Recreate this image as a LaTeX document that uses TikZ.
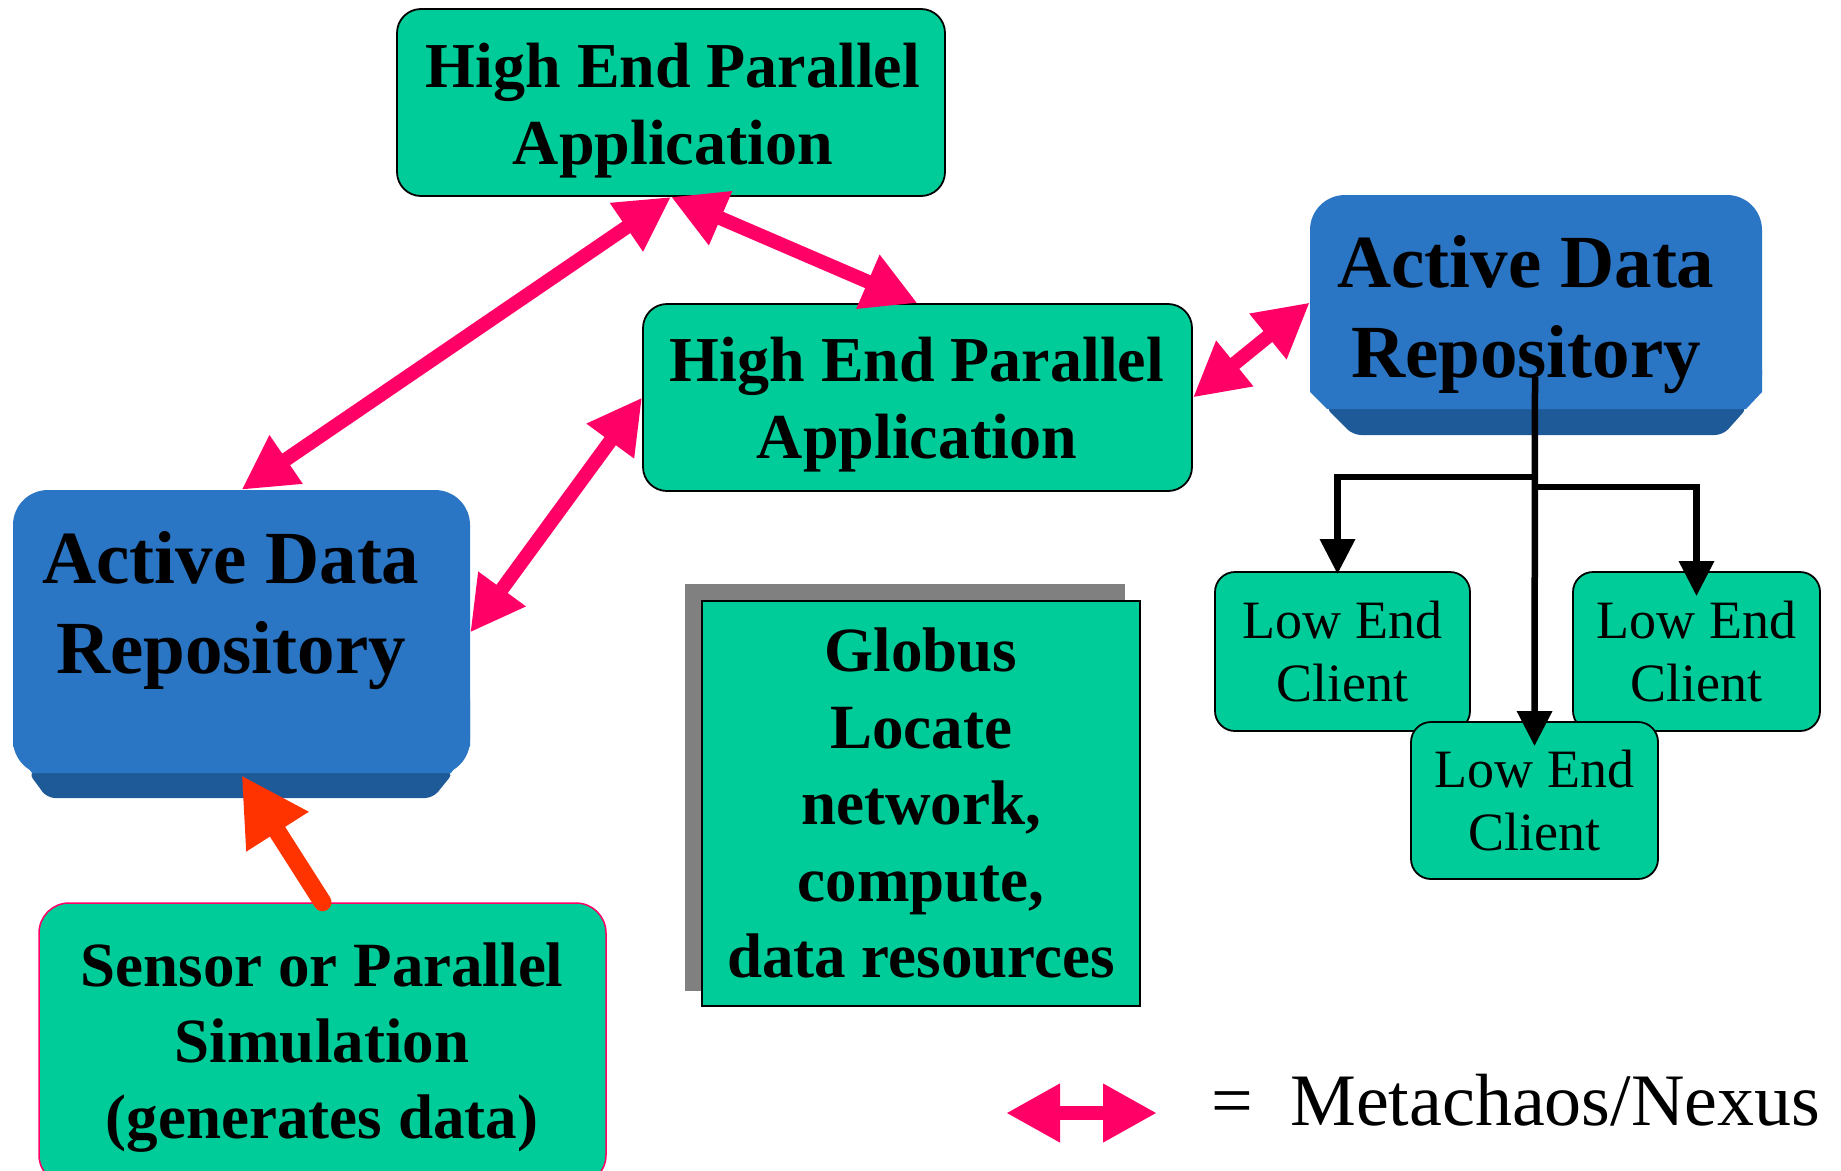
\documentclass[tikz,border=0pt]{standalone}
\usepackage{fontspec}
\setmainfont{Liberation Serif}
\usetikzlibrary{arrows.meta,calc}
\definecolor{boxgreen}{RGB}{0,204,153}
\definecolor{adrblue}{RGB}{42,117,196}
\definecolor{adrdark}{RGB}{31,90,152}
\definecolor{mpink}{RGB}{255,0,102}
\definecolor{morange}{RGB}{255,51,0}
\definecolor{shadowgray}{RGB}{128,128,128}
\begin{document}
\begin{tikzpicture}[x=1pt,y=-1pt,
  hepabox/.style={draw=black,line width=1.8pt,fill=boxgreen,rounded corners=24pt,inner sep=0pt,minimum width=548pt,minimum height=187pt},
  lowbox/.style={draw=black,line width=1.8pt,fill=boxgreen,rounded corners=20pt,inner sep=0pt,align=center,font=\fontsize{54}{63}\selectfont},
  anchorbox/.style={draw=none,inner sep=0pt},
  hepatext/.style={align=center,inner sep=0pt,font=\fontsize{64}{77}\selectfont\bfseries},
  adrtext/.style={align=center,inner sep=0pt,font=\fontsize{75}{90}\selectfont\bfseries},
  pinkarrow/.style={draw=mpink,line width=14pt,{Triangle[length=54pt,width=55pt]}-{Triangle[length=54pt,width=55pt]}},
  blackarrow/.style={draw=black,line width=6.5pt,-{Triangle[length=35pt,width=34pt]}},
  legendfont/.style={inner sep=0pt,font=\fontsize{74}{88}\selectfont}
]
\clip (0,0) rectangle (1841,1170);
\fill[white] (0,0) rectangle (1841,1170);

% High End Parallel Applications
\node[hepabox] (hepaA) at (671,102.5) {};
\node[hepabox,minimum width=549pt] (hepaB) at (917.5,397.5) {};

% Active Data Repository (left)
\fill[adrblue,rounded corners=35pt] (13,490) rectangle (470,775);
\fill[adrdark,rounded corners=8pt] (28,772) -- (47,798) -- (433,798) -- (454,772) -- cycle;
\fill[adrblue] (13,700) -- (13,746) -- (32,773) -- (451,773) -- (470,746) -- (470,700) -- cycle;
\node[anchorbox,minimum width=457pt,minimum height=285pt] (adrL) at (241.5,632.5) {};

% Active Data Repository (right)
\fill[adrblue,rounded corners=35pt] (1310,195) rectangle (1762,410);
\fill[adrdark,rounded corners=8pt] (1325,407) -- (1353,435) -- (1723,435) -- (1748,407) -- cycle;
\fill[adrblue] (1310,370) -- (1310,392) -- (1327,409) -- (1746,409) -- (1762,392) -- (1762,370) -- cycle;
\node[anchorbox,minimum width=452pt,minimum height=215pt] (adrR) at (1536,302.5) {};

% Globus
\node[fill=shadowgray,inner sep=0pt,minimum width=440pt,minimum height=407pt] (globusShadow) at (905,787.5) {};
\node[draw=black,line width=1.8pt,fill=boxgreen,inner sep=0pt,minimum width=438pt,minimum height=405pt,align=center,font=\fontsize{63}{76.5}\selectfont\bfseries] (globus) at (921,803.5) {Globus\\Locate\\network,\\compute,\\data resources};

% Sensor
\node[draw=mpink,line width=1.5pt,fill=boxgreen,rounded corners=30pt,inner sep=0pt,minimum width=567pt,minimum height=282pt] (sensor) at (322.5,1044) {};
\node[align=center,inner sep=0pt,font=\fontsize{63}{76}\selectfont\bfseries] (sensorText) at (322,1047.5) {Sensor or Parallel\\Simulation\\(generates data)};

% Low End Clients
\node[lowbox,minimum width=255pt,minimum height=159pt] (lowL) at (1342.5,651.5) {Low End\\Client};
\node[lowbox,minimum width=247pt,minimum height=159pt] (lowR) at (1696.5,651.5) {Low End\\Client};
\node[lowbox,minimum width=247pt,minimum height=157pt] (lowM) at (1534.5,800.5) {Low End\\Client};

% Texts
\node[hepatext] (hepaAtext) at (673,111) {High End Parallel\\Application};
\node[hepatext] (hepaBtext) at (917,405) {High End Parallel\\Application};
\node[adrtext] (adrLtext) at (231,610.5) {Active Data\\Repository};
\node[adrtext] (adrRtext) at (1526,314.5) {Active Data\\Repository};

% Metachaos/Nexus connectors
\draw[pinkarrow] (hepaA.south) -- (adrL.north);
\draw[pinkarrow] (hepaA.south) -- (hepaB.north);
\draw[pinkarrow] (hepaB.west) -- (adrL.east);
\draw[pinkarrow] (hepaB.east) -- (adrR.west);

% data flow from sensor
\draw[morange,line width=18pt,line cap=round,-{Triangle[length=67pt,width=69pt]}] (sensor.north) -- (adrL.south);

% distribution to clients
\coordinate (splitTop) at (1535,377);
\coordinate (splitL) at (1535,477);
\coordinate (splitR) at (1535,487);
\draw[blackarrow] (splitTop) -- ([yshift=-25pt]lowM.north);
\draw[blackarrow] (splitL) -| ([xshift=-5pt,yshift=-3pt]lowL.north);
\draw[blackarrow] (splitR) -| ([yshift=-25pt]lowR.north);

% legend
\coordinate (legA) at (1006,1113);
\coordinate (legB) at (1157,1113);
\draw[pinkarrow] (legA) -- (legB);
\node[legendfont,anchor=base] (legEq) at (1232,1125) {=};
\node[legendfont,anchor=base west] (legText) at (1290,1125) {Metachaos/Nexus};
\end{tikzpicture}
\end{document}
